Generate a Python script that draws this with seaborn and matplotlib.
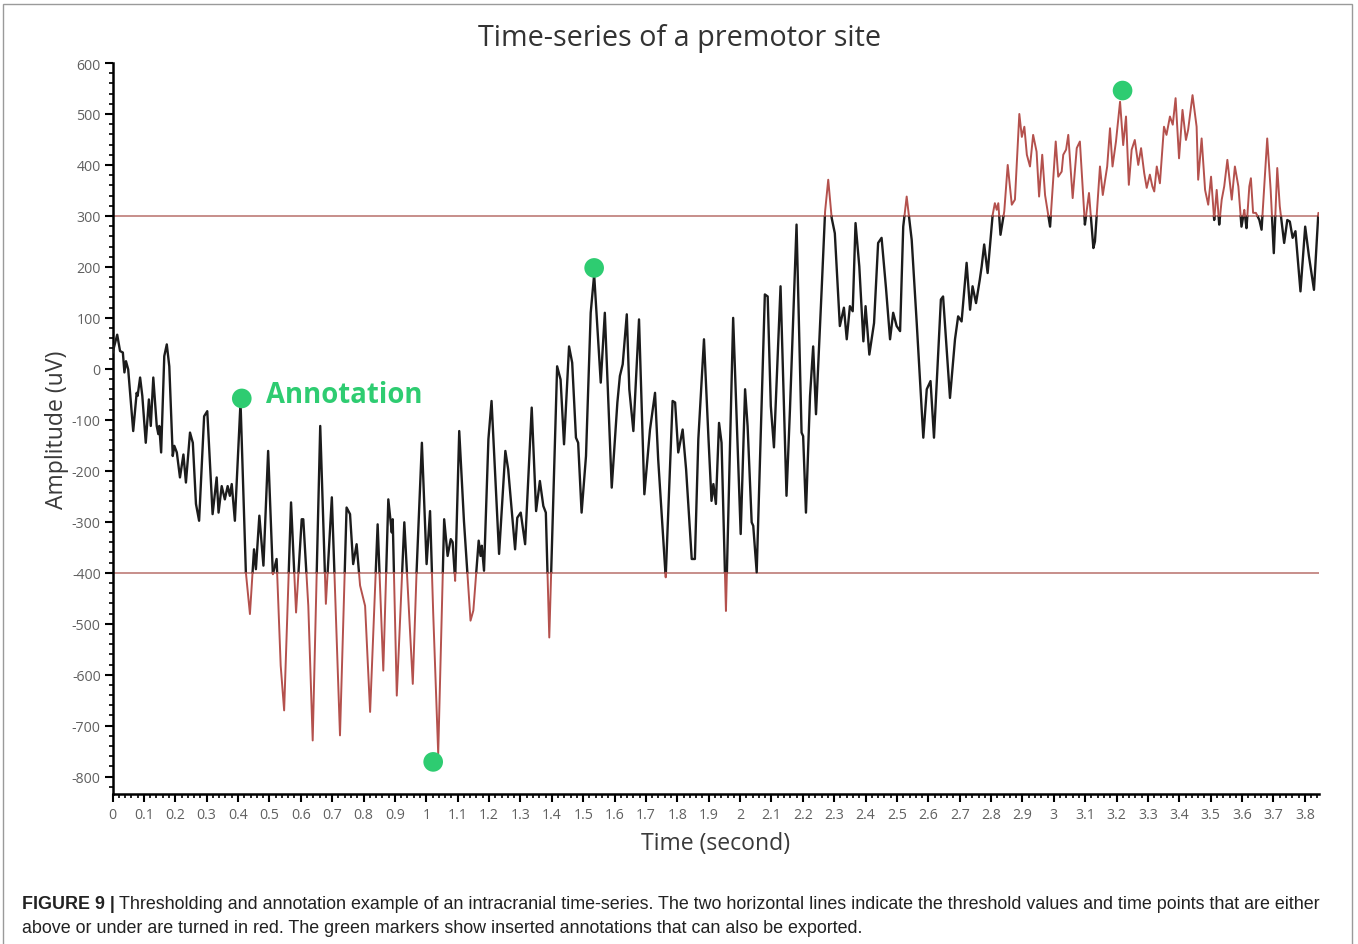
import numpy as np
import pandas as pd
import matplotlib
matplotlib.use("Agg")
import matplotlib.pyplot as plt
import seaborn as sns
from matplotlib.ticker import MultipleLocator, FuncFormatter
from matplotlib.patches import Rectangle

# ---------------- data ----------------
time_s = [
    0.000, 0.015, 0.024, 0.033, 0.038, 0.043, 0.050, 0.066, 0.077, 0.080,
    0.088, 0.095, 0.106, 0.116, 0.122, 0.130, 0.141, 0.146, 0.149, 0.155,
    0.165, 0.173, 0.181, 0.192, 0.197, 0.205, 0.215, 0.226, 0.234, 0.247,
    0.256, 0.266, 0.276, 0.292, 0.302, 0.311, 0.319, 0.332, 0.338, 0.348,
    0.358, 0.367, 0.374, 0.380, 0.390, 0.408, 0.425, 0.438, 0.451, 0.457,
    0.468, 0.481, 0.496, 0.511, 0.523, 0.536, 0.547, 0.569, 0.585, 0.603,
    0.608, 0.624, 0.638, 0.662, 0.680, 0.699, 0.725, 0.746, 0.757, 0.767,
    0.778, 0.789, 0.805, 0.821, 0.845, 0.863, 0.879, 0.890, 0.893, 0.906,
    0.930, 0.957, 0.969, 0.986, 1.001, 1.012, 1.022, 1.038, 1.057, 1.068,
    1.078, 1.084, 1.092, 1.105, 1.120, 1.141, 1.150, 1.167, 1.173, 1.177,
    1.184, 1.198, 1.208, 1.232, 1.252, 1.261, 1.283, 1.290, 1.301, 1.315,
    1.336, 1.350, 1.362, 1.373, 1.381, 1.392, 1.417, 1.428, 1.439, 1.455,
    1.465, 1.477, 1.484, 1.495, 1.509, 1.524, 1.535, 1.556, 1.569, 1.591,
    1.609, 1.617, 1.626, 1.639, 1.647, 1.660, 1.678, 1.695, 1.713, 1.729,
    1.739, 1.763, 1.785, 1.793, 1.803, 1.817, 1.828, 1.846, 1.856, 1.867,
    1.885, 1.899, 1.909, 1.915, 1.923, 1.933, 1.941, 1.955, 1.978, 2.002,
    2.016, 2.024, 2.037, 2.042, 2.053, 2.079, 2.088, 2.098, 2.108, 2.129,
    2.148, 2.159, 2.180, 2.196, 2.201, 2.210, 2.223, 2.233, 2.242, 2.260,
    2.271, 2.281, 2.292, 2.302, 2.318, 2.331, 2.340, 2.350, 2.359, 2.368,
    2.380, 2.393, 2.400, 2.412, 2.427, 2.440, 2.451, 2.465, 2.478, 2.488,
    2.499, 2.510, 2.520, 2.531, 2.547, 2.563, 2.584, 2.595, 2.607, 2.618,
    2.640, 2.647, 2.669, 2.685, 2.695, 2.706, 2.722, 2.733, 2.741, 2.752,
    2.764, 2.770, 2.778, 2.789, 2.805, 2.812, 2.818, 2.823, 2.830, 2.842,
    2.853, 2.866, 2.876, 2.890, 2.898, 2.906, 2.914, 2.924, 2.934, 2.945,
    2.953, 2.963, 2.972, 2.988, 3.006, 3.014, 3.025, 3.030, 3.039, 3.046,
    3.060, 3.073, 3.083, 3.099, 3.112, 3.126, 3.131, 3.147, 3.156, 3.170,
    3.179, 3.187, 3.198, 3.211, 3.221, 3.230, 3.239, 3.248, 3.258, 3.269,
    3.278, 3.288, 3.296, 3.306, 3.314, 3.320, 3.328, 3.338, 3.351, 3.359,
    3.370, 3.379, 3.388, 3.399, 3.410, 3.421, 3.428, 3.442, 3.455, 3.460,
    3.471, 3.482, 3.492, 3.501, 3.511, 3.519, 3.527, 3.535, 3.543, 3.553,
    3.567, 3.577, 3.588, 3.598, 3.607, 3.614, 3.623, 3.628, 3.635, 3.644,
    3.655, 3.662, 3.680, 3.691, 3.701, 3.712, 3.720, 3.734, 3.744, 3.752,
    3.761, 3.770, 3.786, 3.801, 3.813, 3.829, 3.843,
]
amplitude_uv = [
    31, 67, 35, 32, -7, 15, -1, -122, -47, -53,
    -17, -53, -145, -60, -112, -17, -112, -128, -112, -164,
    25, 48, 5, -171, -151, -164, -213, -168, -223, -125,
    -145, -265, -298, -93, -83, -190, -285, -213, -282, -230,
    -256, -230, -249, -226, -298, -65, -399, -481, -354, -393,
    -288, -386, -161, -403, -373, -582, -670, -262, -478, -295,
    -295, -465, -729, -112, -461, -252, -719, -272, -285, -383,
    -344, -425, -465, -673, -305, -592, -256, -321, -295, -641,
    -301, -618, -399, -145, -383, -279, -478, -755, -295, -367,
    -334, -340, -416, -122, -298, -494, -474, -337, -367, -347,
    -396, -138, -63, -363, -161, -197, -354, -292, -282, -344,
    -76, -279, -220, -269, -282, -527, 5, -21, -148, 44,
    12, -135, -145, -282, -171, 110, 185, -27, 110, -233,
    -66, -14, 9, 107, -40, -122, 97, -246, -119, -47,
    -177, -409, -63, -66, -164, -119, -197, -373, -373, -138,
    58, -132, -259, -226, -265, -106, -145, -475, 100, -324,
    -40, -112, -301, -308, -399, 146, 142, -73, -154, 162,
    -249, -80, 283, -125, -132, -282, -53, 44, -89, 155,
    309, 371, 296, 266, 84, 120, 58, 123, 113, 286,
    201, 54, 123, 28, 90, 247, 257, 159, 58, 110,
    84, 74, 279, 338, 253, 90, -135, -40, -24, -135,
    136, 142, -57, 58, 103, 93, 208, 116, 162, 129,
    175, 201, 244, 188, 302, 325, 312, 325, 263, 309,
    400, 322, 332, 500, 455, 475, 420, 397, 459, 426,
    338, 420, 341, 279, 446, 377, 387, 420, 430, 459,
    335, 433, 446, 283, 345, 237, 250, 397, 341, 397,
    472, 397, 446, 524, 439, 495, 361, 430, 449, 400,
    433, 384, 355, 381, 358, 348, 397, 364, 475, 459,
    495, 479, 531, 413, 508, 449, 469, 537, 475, 371,
    452, 351, 322, 377, 292, 351, 283, 332, 358, 410,
    332, 397, 358, 279, 312, 276, 358, 374, 306, 306,
    292, 273, 452, 351, 227, 394, 319, 247, 292, 289,
    257, 270, 152, 279, 221, 155, 306,
]
assert len(time_s) == len(amplitude_uv)

upper_threshold = 300
lower_threshold = -400

annot_time = [0.412, 1.022, 1.535, 3.219]
annot_amp = [-58, -771, 198, 546]
annot_label = "Annotation"
annot_label_pos = (0.489, -50)

y_ticks = list(range(-800, 601, 100))
x_ticks = [round(0.1 * i, 1) for i in range(0, 39)]

title_text = "Time-series of a premotor site"
xlabel_text = "Time (second)"
ylabel_text = "Amplitude (uV)"
caption_bold = "FIGURE 9 |"
caption_line1 = ("Thresholding and annotation example of an intracranial time-series. "
                 "The two horizontal lines indicate the threshold values and time points that are either")
caption_line2 = ("above or under are turned in red. The green markers show inserted "
                 "annotations that can also be exported.")

# ---------------- styling ----------------
sns.set_theme(style="ticks")
plt.rcParams["font.family"] = ["Open Sans", "DejaVu Sans"]
plt.rcParams["axes.unicode_minus"] = False

BLACK = "#1c1c1c"
RED = "#b4514d"
THR = "#b8706b"
GREEN = "#2ecc71"
GRAY = "#606060"

W, H = 1358, 945
fig = plt.figure(figsize=(W / 100, H / 100), dpi=100)
ax = fig.add_axes([112.5 / W, (H - 795) / H, (1319.3 - 112.5) / W, (795 - 64) / H])

# ---------------- split the trace at threshold crossings ----------------
t = np.asarray(time_s, float)
a = np.asarray(amplitude_uv, float)
xs, ys = [t[0]], [a[0]]
for i in range(len(t) - 1):
    t0, t1, a0, a1 = t[i], t[i + 1], a[i], a[i + 1]
    cross = []
    for thr in (upper_threshold, lower_threshold):
        if (a0 - thr) * (a1 - thr) < 0:
            cross.append(((thr - a0) / (a1 - a0), thr))
    for f, thr in sorted(cross):
        xs.append(t0 + f * (t1 - t0))
        ys.append(thr)
    xs.append(t1)
    ys.append(a1)
xs = np.array(xs)
ys = np.array(ys)
mid = (ys[:-1] + ys[1:]) / 2
is_red = (mid > upper_threshold) | (mid < lower_threshold)

rows = []
run, start = 0, 0
n = len(is_red)
for i in range(1, n + 1):
    if i == n or is_red[i] != is_red[start]:
        state = "red" if is_red[start] else "black"
        for j in range(start, i + 1):
            rows.append((xs[j], ys[j], run, state))
        run += 1
        start = i
df = pd.DataFrame(rows, columns=["t", "amp", "run", "state"])

# threshold lines
ax.axhline(upper_threshold, color=THR, lw=1.1, zorder=1)
ax.axhline(lower_threshold, color=THR, lw=1.1, zorder=1)

sns.lineplot(data=df[df.state == "black"], x="t", y="amp", units="run",
             estimator=None, sort=False, color=BLACK, lw=1.7, ax=ax, zorder=3)
sns.lineplot(data=df[df.state == "red"], x="t", y="amp", units="run",
             estimator=None, sort=False, color=RED, lw=1.4, ax=ax, zorder=3)

sns.scatterplot(x=annot_time, y=annot_amp, s=200, color=GREEN,
                edgecolor="none", linewidth=0, ax=ax, zorder=5)
ax.text(annot_label_pos[0], annot_label_pos[1], annot_label, color=GREEN,
        fontsize=19.8, fontweight="bold", ha="left", va="center", zorder=6)

# ---------------- axes ----------------
ax.set_xlim(0, 3.846)
ax.set_ylim(-834, 600)
ax.set_yticks(y_ticks)
ax.set_xticks(x_ticks)
ax.xaxis.set_minor_locator(MultipleLocator(0.02))
ax.yaxis.set_minor_locator(MultipleLocator(20))
ax.xaxis.set_major_formatter(FuncFormatter(lambda v, p: f"{v:g}"))
ax.yaxis.set_major_formatter(FuncFormatter(lambda v, p: f"{int(round(v))}"))

for side in ("top", "right"):
    ax.spines[side].set_visible(False)
for side in ("left", "bottom"):
    ax.spines[side].set_color("black")
    ax.spines[side].set_linewidth(1.8)

ax.tick_params(axis="both", which="major", direction="out", length=5.5, width=1.5,
               color="black", labelsize=10.2, labelcolor=GRAY, pad=3)
ax.tick_params(axis="x", which="major", pad=4)
ax.tick_params(axis="both", which="minor", direction="out", length=3, width=1.2,
               color="black")
ax.grid(False)
ax.set_facecolor("white")

ax.set_xlabel(xlabel_text, fontsize=16.6, color="#3a3a3a")
ax.set_ylabel(ylabel_text, fontsize=16.6, color="#3a3a3a")
ax.xaxis.set_label_coords(0.5, -0.051)
ax.yaxis.set_label_coords(-0.036, 0.5)

fig.text(0.5, 1 - 38.5 / H, title_text, ha="center", va="center",
         fontsize=20.7, color="#333333")

# ---------------- caption ----------------
cap_font = ["Liberation Sans", "DejaVu Sans"]
cap_size = 12.9
tb = fig.text(22 / W, 1 - 909.5 / H, caption_bold, ha="left", va="baseline",
              fontsize=cap_size, fontweight="bold", family=cap_font, color="#222222")
fig.canvas.draw()
bb = tb.get_window_extent(renderer=fig.canvas.get_renderer())
fig.text((bb.x1 + 4) / W, 1 - 909.5 / H, caption_line1, ha="left", va="baseline",
         fontsize=cap_size, family=cap_font, color="#222222")
fig.text(22 / W, 1 - 933.5 / H, caption_line2, ha="left", va="baseline",
         fontsize=cap_size, family=cap_font, color="#222222")

# frame around the figure
fig.add_artist(Rectangle((3 / W, -0.01), (1352 - 3) / W, 1.0 - 5 / H + 0.01,
                         transform=fig.transFigure, fill=False,
                         edgecolor="#9a9a9a", lw=1.0))

fig.savefig("out.png", dpi=100, facecolor="white")
